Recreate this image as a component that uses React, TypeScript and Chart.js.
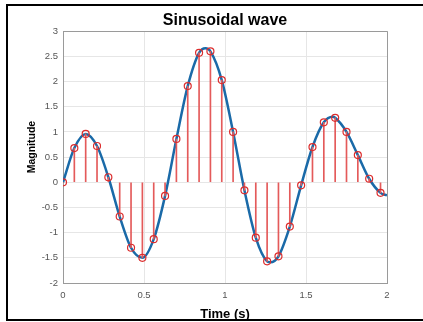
import React, { useEffect, useRef } from "react";
import { Chart, registerables } from "chart.js";

Chart.register(...registerables);

// Sample times (s) and sampled magnitudes (stems + circles)
const sampleT = [0, 0.07, 0.14, 0.21, 0.28, 0.35, 0.42, 0.49, 0.56, 0.63, 0.7, 0.77, 0.84, 0.91, 0.98, 1.05, 1.12, 1.19, 1.26, 1.33, 1.4, 1.47, 1.54, 1.61, 1.68, 1.75, 1.82, 1.89, 1.96];
const sampleV = [0, 0.68, 0.96, 0.72, 0.1, -0.68, -1.3, -1.5, -1.13, -0.27, 0.86, 1.91, 2.57, 2.6, 2.03, 1.0, -0.16, -1.1, -1.57, -1.47, -0.88, -0.06, 0.7, 1.19, 1.28, 1.0, 0.54, 0.07, -0.21];

// Continuous wave (blue curve)
const curveT = [0, 0.07, 0.14, 0.21, 0.28, 0.35, 0.42, 0.49, 0.56, 0.63, 0.7, 0.77, 0.84, 0.88, 0.91, 0.98, 1.05, 1.12, 1.19, 1.26, 1.28, 1.33, 1.4, 1.47, 1.54, 1.61, 1.665, 1.68, 1.75, 1.82, 1.89, 1.96, 2.0];
const curveV = [0, 0.68, 0.96, 0.72, 0.1, -0.68, -1.3, -1.5, -1.13, -0.27, 0.86, 1.91, 2.57, 2.66, 2.6, 2.03, 1.0, -0.16, -1.1, -1.57, -1.59, -1.47, -0.88, -0.06, 0.7, 1.19, 1.3, 1.28, 1.0, 0.54, 0.07, -0.21, -0.26];

const xTickMin = 0;
const xTickMax = 2;
const xTickStep = 0.5;
const yTickMin = -2;
const yTickMax = 3;
const yTickStep = 0.5;

const titleText = "Sinusoidal wave";
const xTitleText = "Time (s)";
const yTitleText = "Magnitude";

const FONT = "'Liberation Sans', Arial, Helvetica, sans-serif";
const AXIS_COLOR = "#9a9a9a";

const fmt = (v: any) => String(Number(Number(v).toFixed(2)));

const boxPlugin = {
  id: "matlabBox",
  beforeDatasetsDraw(chart: any) {
    const { ctx, chartArea } = chart;
    ctx.save();
    ctx.strokeStyle = AXIS_COLOR;
    ctx.lineWidth = 1;
    ctx.beginPath();
    ctx.moveTo(chartArea.left, Math.round(chartArea.top) + 0.5);
    ctx.lineTo(chartArea.right, Math.round(chartArea.top) + 0.5);
    ctx.moveTo(Math.round(chartArea.right) + 0.5, chartArea.top);
    ctx.lineTo(Math.round(chartArea.right) + 0.5, chartArea.bottom);
    ctx.stroke();
    ctx.restore();
  },
  afterDraw(chart: any) {
    const { ctx, chartArea } = chart;
    ctx.save();
    ctx.fillStyle = "#000";
    ctx.font = `bold 10.5px ${FONT}`;
    ctx.textAlign = "center";
    ctx.textBaseline = "middle";
    ctx.translate(32, (chartArea.top + chartArea.bottom) / 2 - 10);
    ctx.rotate(-Math.PI / 2);
    ctx.fillText(yTitleText, 0, 0);
    ctx.restore();
  },
};

export default function App() {
  const ref = useRef<HTMLCanvasElement | null>(null);

  useEffect(() => {
    if (!ref.current) return;
    Chart.defaults.font.family = FONT;
    const chart = new Chart(ref.current, {
      type: "bar",
      data: {
        datasets: [
          {
            type: "scatter",
            label: "samples",
            data: sampleT.map((t, i) => ({ x: t, y: sampleV[i] })),
            showLine: false,
            pointStyle: "circle",
            pointRadius: 3.5,
            pointBorderWidth: 1.2,
            pointBorderColor: "rgb(220,45,45)",
            pointBackgroundColor: "rgba(0,0,0,0)",
            order: 0,
          } as any,
          {
            type: "bar",
            label: "stems",
            data: sampleT.map((t, i) => ({ x: t, y: sampleV[i] })),
            backgroundColor: "rgb(228,90,90)",
            borderWidth: 0,
            barThickness: 1,
            order: 1,
          } as any,
          {
            type: "line",
            label: "wave",
            data: curveT.map((t, i) => ({ x: t, y: curveV[i] })),
            borderColor: "#1a6aa8",
            borderWidth: 2.5,
            pointRadius: 0,
            fill: false,
            cubicInterpolationMode: "monotone",
            order: 2,
          } as any,
        ],
      },
      options: {
        responsive: false,
        animation: false,
        devicePixelRatio: 1,
        layout: { padding: { left: 0, right: 36, top: 0, bottom: 0 } },
        plugins: {
          legend: { display: false },
          tooltip: { enabled: false },
          title: {
            display: true,
            text: titleText,
            color: "#000",
            fullSize: false,
            font: { size: 16, weight: "bold", family: FONT },
            padding: { top: 11, bottom: 1 },
          },
        },
        scales: {
          x: {
            type: "linear",
            min: xTickMin,
            max: xTickMax,
            offset: false,
            ticks: {
              stepSize: xTickStep,
              color: "#555",
              font: { size: 9.5, family: FONT },
              padding: 7,
              maxRotation: 0,
              callback: fmt,
            },
            grid: { color: "#e6e6e6", drawTicks: false, offset: false },
            border: { color: AXIS_COLOR },
            title: {
              display: true,
              text: xTitleText,
              color: "#000",
              font: { size: 13, weight: "bold", family: FONT },
              padding: { top: 0, bottom: 0 },
            },
            afterFit: (scale: any) => {
              scale.height = 39;
            },
          },
          y: {
            type: "linear",
            min: yTickMin,
            max: yTickMax,
            ticks: {
              stepSize: yTickStep,
              color: "#555",
              font: { size: 9.5, family: FONT },
              padding: 5,
              callback: fmt,
            },
            grid: { color: "#e6e6e6", drawTicks: false },
            border: { color: AXIS_COLOR },
            title: { display: false },
            afterFit: (scale: any) => {
              scale.width = 63;
            },
          },
        },
      } as any,
      plugins: [boxPlugin],
    });
    return () => chart.destroy();
  }, []);

  return (
    <div style={{ position: "fixed", left: 0, top: 0, width: 423, height: 322, background: "#fff", overflow: "hidden" }}>
      <canvas ref={ref} width={423} height={322} style={{ position: "absolute", left: 0, top: 0 }} />
      <div
        style={{
          position: "absolute",
          left: 6,
          top: 4,
          width: 460,
          height: 317,
          boxSizing: "border-box",
          borderLeft: "2px solid #000",
          borderTop: "2px solid #000",
          borderBottom: "2px solid #000",
          pointerEvents: "none",
        }}
      />
    </div>
  );
}
